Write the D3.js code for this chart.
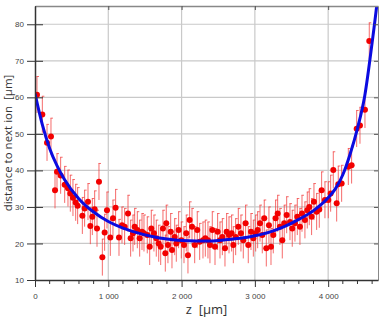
<!DOCTYPE html>
<html>
<head>
<meta charset="utf-8">
<script src="https://cdn.jsdelivr.net/npm/d3@7"></script>
<style>
  html, body { margin: 0; padding: 0; background: #fff; }
  svg { display: block; }
  text.title { white-space: pre; }
</style>
</head>
<body>
<script>
// ---- data ----
const zPos = [27,100,164,218,273,300,350,405,450,482,518,555,582,646,677,723,755,782,814,846,873,919,950,982,1028,1064,1100,1146,
1187,1223,1269,1305,1337,1360,1396,1428,1460,1487,1532,1565,1587,1623,1655,1688,1715,1746,1778,1791,1814,1851,1869,1906,1928,1960,1996,2033,2064,2087,2110,2142,2179,2214,2247,2292,2324,2360,
2387,2419,2456,2492,2524,2556,2592,2615,2647,2683,2706,2738,2774,2810,2842,2874,2910,2947,2979,3011,3038,3070,3101,3128,3156,3192,3220,3251,3283,3311,3342,3374,3401,3434,3479,3510,3547,
3579,3615,3643,3683,3715,3742,3774,3806,3843,3879,3911,3956,4002,4034,4070,4116,4138,4184,4275,4320,4389,4434,4502,4561];
const distance = [60.7,55.3,47.6,49.3,34.6,39.6,38.6,36.1,35.1,33.7,32.5,31.2,30.3,27.6,29.6,31.4,24.8,27.3,29.4,24.1,36.9,16.2,23.0,29.1,21.6,26.9,29.8,21.6,
25.0,24.6,28.2,21.4,22.8,24.6,23.7,21.4,23.2,22.8,22.3,19.1,24.1,22.8,21.4,20.0,19.1,24.1,17.3,25.5,19.6,23.2,18.2,21.8,20.0,23.7,20.9,19.6,22.8,16.8,26.4,24.6,19.6,23.7,20.5,20.9,21.4,20.9,
19.6,23.7,19.1,23.2,20.9,21.8,18.7,23.2,22.3,22.8,19.6,21.8,24.6,22.8,20.9,25.5,19.6,23.2,21.4,22.8,23.7,25.5,22.3,26.9,18.7,25.0,19.1,22.3,26.9,28.2,24.6,20.9,25.5,27.8,25.9,24.1,25.5,
27.3,24.6,28.2,26.4,29.1,30.0,27.3,31.4,28.7,29.3,34.6,31.9,31.9,33.7,40.1,31.0,36.2,36.4,41.0,41.4,51.4,52.3,56.6,75.4];
const errors = [5.0,5.0,5.0,5.0,5.0,5.0,5.0,5.0,5.0,5.0,5.0,5.0,5.0,5.0,5.0,5.0,5.0,5.0,5.0,5.0,5.0,5.0,5.0,5.0,5.0,5.0,5.0,5.0,
5.0,5.0,5.0,5.0,5.0,5.0,5.0,5.0,5.0,5.0,5.0,5.0,5.0,5.0,5.0,5.0,5.0,5.0,5.0,5.0,5.0,5.0,5.0,5.0,5.0,5.0,5.0,5.0,5.0,5.0,5.0,5.0,5.0,5.0,5.0,5.0,5.0,5.0,
5.0,5.0,5.0,5.0,5.0,5.0,5.0,5.0,5.0,5.0,5.0,5.0,5.0,5.0,5.0,5.0,5.0,5.0,5.0,5.0,5.0,5.0,5.0,5.0,5.0,5.0,5.0,5.0,5.0,5.0,5.0,5.0,5.0,5.0,5.0,5.0,5.0,
5.0,5.0,5.0,5.0,5.0,5.0,5.0,5.0,5.0,5.0,5.0,5.0,5.0,5.0,5.0,5.0,5.0,5.0,5.0,5.0,5.0,5.0,5.0,5.0];

// fitted curve
const fitZ = [0,100,200,300,400,600,800,1000,1200,1400,1600,1800,2000,2200,2400,2600,2800,3000,3200,3400,3600,3800,4000,4100,4200,4300,4400,4500,4600,4662,4700];
const fitD = [61,52.5,46,41.3,37.6,32.2,28.6,26.0,24.2,22.9,21.9,21.2,20.8,20.7,20.7,21.0,21.4,22.1,23.1,24.6,26.6,29.0,32.5,35.0,38.8,44.5,51.5,60.5,75,85,92];

const xMajor = [0,1000,2000,3000,4000];
const xMinor = [200,400,600,800,1200,1400,1600,1800,2200,2400,2600,2800,3200,3400,3600,3800,4200,4400,4600];
const yMajor = [10,20,30,40,50,60,70,80];

// ---- drawing ----
const W = 379, H = 318;
const L = 35, R = 378, T = 6, B = 280;

const svg = d3.select("body").append("svg").attr("width", W).attr("height", H);
svg.append("rect").attr("width", W).attr("height", H).attr("fill", "#fff");

const x = d3.scaleLinear().domain([0, 4680]).range([L, R]);
const y = d3.scaleLinear().domain([10, 85]).range([B, T]);

const loc = d3.formatLocale({decimal: ".", thousands: " ", grouping: [3], currency: ["", ""]});
const fmt = loc.format(",");

// grid
const grid = svg.append("g").attr("stroke", "#c9c9c9").attr("stroke-width", 1.2);
grid.selectAll(".gx").data(xMajor.filter(d => d > 0)).join("line")
  .attr("x1", d => x(d)).attr("x2", d => x(d)).attr("y1", T).attr("y2", B);
grid.selectAll(".gy").data(yMajor.filter(d => d > 10)).join("line")
  .attr("x1", L).attr("x2", R).attr("y1", d => y(d)).attr("y2", d => y(d));

// clip
svg.append("clipPath").attr("id", "clip").append("rect")
  .attr("x", L).attr("y", T).attr("width", R - L).attr("height", B - T);

const plot = svg.append("g").attr("clip-path", "url(#clip)");

// error bars
const pts = zPos.map((z, i) => ({z, d: distance[i], e: errors[i]}));
const eb = plot.append("g").attr("stroke", "#f23a3a").attr("stroke-opacity", 0.75).attr("stroke-width", 1);
eb.selectAll("line.bar").data(pts).join("line").attr("class", "bar")
  .attr("x1", p => x(p.z)).attr("x2", p => x(p.z))
  .attr("y1", p => y(p.d - p.e)).attr("y2", p => y(p.d + p.e));
eb.selectAll("line.cap").data(pts).join("line").attr("class", "cap")
  .attr("x1", p => x(p.z) - 0.5).attr("x2", p => x(p.z) + 2)
  .attr("y1", p => y(p.d + p.e)).attr("y2", p => y(p.d + p.e));

// points
plot.append("g").selectAll("circle").data(pts).join("circle")
  .attr("cx", p => x(p.z)).attr("cy", p => y(p.d)).attr("r", 3)
  .attr("fill", "#f20000");

// fit curve
const fitLine = d3.line().x(z => x(z)).y((z, i) => y(fitD[i])).curve(d3.curveMonotoneX);
plot.append("path").datum(fitZ).attr("d", fitLine)
  .attr("fill", "none").attr("stroke", "#0b0be0").attr("stroke-width", 3);

// axes
const axisColor = "#333";
const fontTick = "8px 'Liberation Sans', Arial, sans-serif";

// top frame + ticks
const topAxis = svg.append("g").attr("transform", `translate(0,${T})`)
  .call(d3.axisTop(x).tickValues(xMajor).tickSize(-4).tickFormat("").tickSizeOuter(0));
topAxis.select(".domain").attr("stroke", "#888").attr("stroke-width", 1.5);
topAxis.selectAll(".tick line").attr("stroke", "#555");

// right ticks
const rightAxis = svg.append("g").attr("transform", `translate(${R},0)`)
  .call(d3.axisRight(y).tickValues(yMajor).tickSize(-4).tickFormat("").tickSizeOuter(0));
rightAxis.select(".domain").attr("stroke", "#888");
rightAxis.selectAll(".tick line").attr("stroke", "#555");

// bottom axis
const bottomAxis = svg.append("g").attr("transform", `translate(0,${B})`)
  .call(d3.axisBottom(x).tickValues(xMajor).tickSize(7).tickPadding(6).tickFormat(fmt).tickSizeOuter(0));
bottomAxis.append("g").selectAll("line").data(xMinor).join("line")
  .attr("x1", d => x(d)).attr("x2", d => x(d)).attr("y1", 0).attr("y2", 4)
  .attr("stroke", axisColor);
bottomAxis.select(".domain").attr("stroke", axisColor).attr("stroke-width", 1.5);
bottomAxis.selectAll(".tick line").attr("stroke", axisColor);
bottomAxis.selectAll(".tick text").style("font", fontTick).attr("fill", "#444");

// left axis
const leftAxis = svg.append("g").attr("transform", `translate(${L},0)`)
  .call(d3.axisLeft(y).tickValues(yMajor).tickSize(8).tickPadding(3).tickSizeOuter(0));
leftAxis.selectAll(".tick line").attr("x1", 8).attr("stroke", axisColor);
leftAxis.select(".domain").attr("stroke", axisColor).attr("stroke-width", 1.5);
leftAxis.selectAll(".tick text").style("font", fontTick).attr("fill", "#444");

// titles
svg.append("text").attr("class", "title").attr("x", (L + R) / 2).attr("y", 314).attr("text-anchor", "middle")
  .style("font", "13px 'Open Sans', sans-serif").attr("fill", "#333")
  .text("z  [µm]");
svg.append("text").attr("class", "title").attr("transform", `translate(11.5,${(T + B) / 2}) rotate(-90)`)
  .attr("text-anchor", "middle")
  .style("font", "11.5px 'Open Sans', sans-serif").attr("fill", "#333")
  .text("distance to next ion  [µm]");
</script>
</body>
</html>
